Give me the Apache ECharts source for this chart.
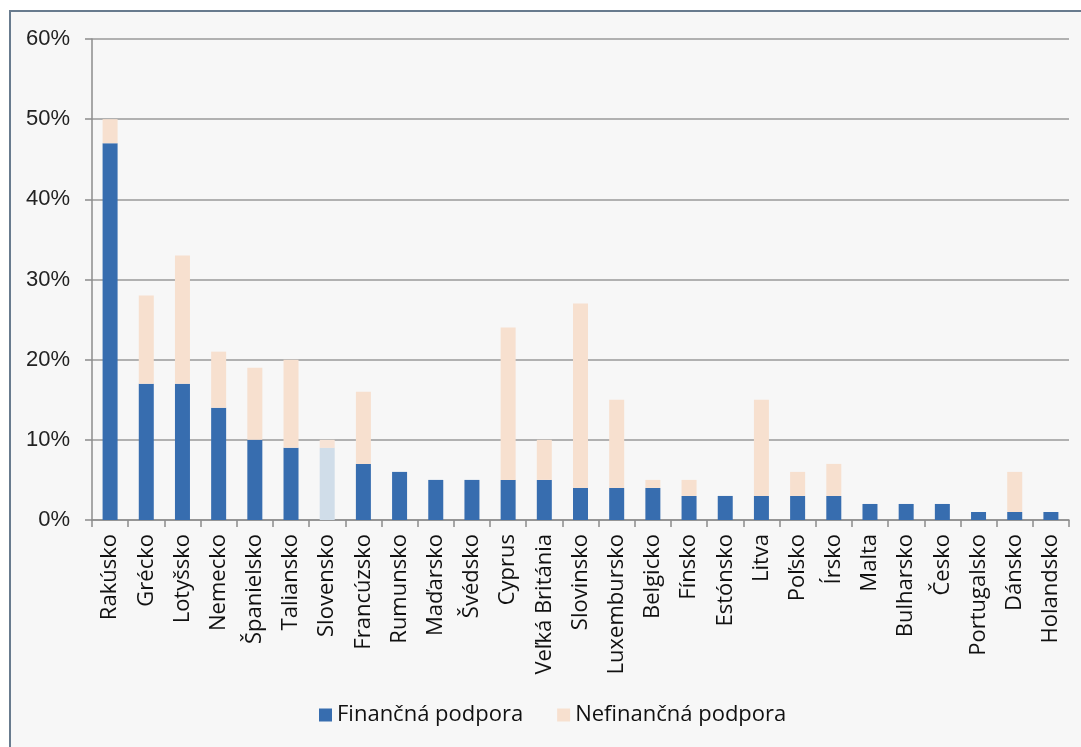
<!DOCTYPE html>
<html>
<head>
<meta charset="utf-8">
<script src="https://cdn.jsdelivr.net/npm/echarts@6/dist/echarts.min.js"></script>
<style>
  html, body { margin: 0; padding: 0; background: #ffffff; }
  #frame {
    position: absolute; left: 9px; top: 10px; width: 1072px; height: 737px;
    background: #f7f7f7; border-left: 2px solid #687b8e; border-top: 2px solid #687b8e;
    box-sizing: border-box;
  }
  #chart { position: absolute; left: 0; top: 0; width: 1081px; height: 747px; }
</style>
</head>
<body>
<div id="frame"></div>
<div id="chart"></div>
<script>
// krajiny
var krajiny = ['Rakúsko', 'Grécko', 'Lotyšsko', 'Nemecko', 'Španielsko', 'Taliansko', 'Slovensko',
  'Francúzsko', 'Rumunsko', 'Maďarsko', 'Švédsko', 'Cyprus', 'Veľká Británia', 'Slovinsko',
  'Luxembursko', 'Belgicko', 'Fínsko', 'Estónsko', 'Litva', 'Poľsko', 'Írsko', 'Malta',
  'Bulharsko', 'Česko', 'Portugalsko', 'Dánsko', 'Holandsko'];
// finančná podpora (%)
var financna = [47, 17, 17, 14, 10, 9, 9, 7, 6, 5, 5, 5, 5, 4, 4, 4, 3, 3, 3, 3, 3, 2, 2, 2, 1, 1, 1];
// nefinančná podpora (%)
var nefinancna = [3, 11, 16, 7, 9, 11, 1, 9, 0, 0, 0, 19, 5, 23, 11, 1, 2, 0, 12, 3, 4, 0, 0, 0, 0, 5, 0];
var yTicky = [0, 10, 20, 30, 40, 50, 60];

var zvyraznena = krajiny.indexOf('Slovensko');

function data(hodnoty, farbaZvyraznenia) {
  return hodnoty.map(function (v, i) {
    if (i === zvyraznena) {
      return { value: v, itemStyle: { color: farbaZvyraznenia } };
    }
    return v;
  });
}

var chart = echarts.init(document.getElementById('chart'), null, { renderer: 'canvas' });

var option = {
  backgroundColor: 'transparent',
  animation: false,
  grid: { left: 92, top: 39, right: 12, bottom: 227, containLabel: false },
  legend: {
    left: 314, top: 699,
    itemWidth: 13, itemHeight: 13, itemGap: 34,
    icon: 'rect',
    textStyle: { fontFamily: 'Open Sans', fontSize: 22, color: '#111' },
    data: ['Finančná podpora', 'Nefinančná podpora']
  },
  xAxis: {
    type: 'category',
    data: krajiny,
    axisLine: { lineStyle: { color: '#8c8c8c', width: 1.5 } },
    axisTick: { show: true, length: 7, lineStyle: { color: '#8c8c8c', width: 1.5 } },
    axisLabel: {
      rotate: 90, interval: 0, margin: 14,
      fontFamily: 'Open Sans', fontSize: 22, color: '#111'
    }
  },
  yAxis: {
    type: 'value',
    min: 0, max: 60, interval: 10,
    axisLine: { show: true, lineStyle: { color: '#8c8c8c', width: 1.5 } },
    axisTick: { show: true, length: 7, lineStyle: { color: '#8c8c8c', width: 1.5 } },
    splitLine: { lineStyle: { color: '#9a9a9a', width: 1.5 } },
    axisLabel: {
      margin: 22,
      fontFamily: 'Liberation Sans', fontSize: 22, color: '#222',
      formatter: function (v) { return yTicky.indexOf(v) >= 0 ? v + '%' : ''; }
    }
  },
  series: [
    {
      name: 'Finančná podpora',
      type: 'bar', stack: 'spolu',
      barWidth: 15,
      itemStyle: { color: '#376daf' },
      data: data(financna, '#d0dde9')
    },
    {
      name: 'Nefinančná podpora',
      type: 'bar', stack: 'spolu',
      barWidth: 15,
      itemStyle: { color: '#f7e0cf' },
      data: data(nefinancna, '#f7e3d6')
    }
  ]
};

chart.setOption(option);
</script>
</body>
</html>
